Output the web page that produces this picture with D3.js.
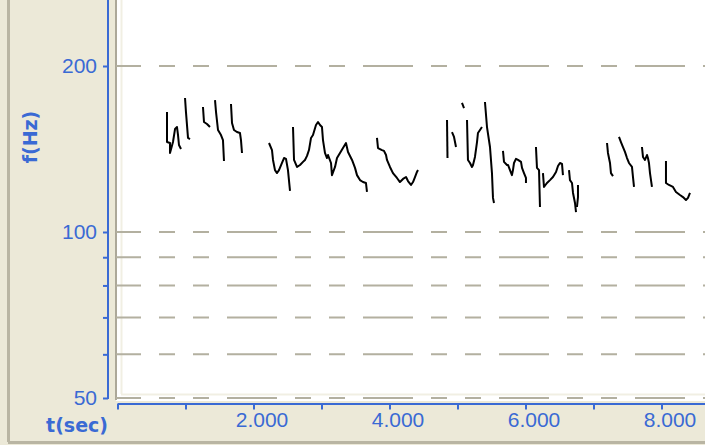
<!DOCTYPE html>
<html>
<head>
<meta charset="utf-8">
<script src="https://cdn.jsdelivr.net/npm/d3@7"></script>
<style>
  body { margin: 0; background: #ECE9D8; }
  svg { display: block; }
</style>
</head>
<body>
<svg id="pitchSVG" width="705" height="445"></svg>
<script>
// grid / tick values
const yGridValues = [200, 100, 90, 80, 70, 60, 50];
const yLabelValues = [200, 100, 50];
const xTickValues = [0, 1, 2, 3, 4, 5, 6, 7, 8];
const xLabelValues = [2, 4, 6, 8];

// pitch contour pieces, [t(sec), f(Hz)]
const pitchSegments = [
  [[0.728,165.0],[0.728,145.6],[0.772,145.0],[0.772,139.1],[0.816,145.6],[0.846,153.7],[0.875,155.0],[0.890,149.9],[0.904,143.8],[0.934,141.4]],
  [[0.993,175.0],[1.007,165.0],[1.037,148.1],[1.066,147.4]],
  [[1.257,168.5],[1.272,158.3],[1.316,157.0],[1.360,155.0]],
  [[1.434,173.5],[1.449,165.0],[1.478,153.1],[1.522,149.9],[1.551,146.8],[1.566,134.5]],
  [[1.669,170.7],[1.684,157.6],[1.713,153.1],[1.757,151.8],[1.801,151.2],[1.816,146.8],[1.831,139.1]],
  [[2.228,145.0],[2.272,140.8],[2.287,135.1],[2.316,129.5],[2.346,127.9],[2.375,129.5],[2.419,133.4],[2.449,136.2],[2.478,135.7],[2.507,129.5],[2.537,118.7]],
  [[2.581,155.0],[2.596,135.1],[2.640,131.2],[2.684,132.3],[2.728,134.0],[2.757,135.1],[2.787,137.4],[2.816,140.8],[2.846,148.1],[2.875,149.9],[2.919,156.3],[2.949,158.3],[2.978,156.3],[3.007,155.0],[3.022,146.8],[3.051,139.1],[3.081,136.2],[3.096,137.9],[3.140,133.4],[3.154,126.8],[3.199,131.2],[3.228,136.2],[3.272,139.1],[3.316,142.0],[3.360,145.0],[3.390,139.7],[3.449,135.1],[3.493,130.7],[3.522,126.8],[3.566,124.2],[3.610,123.2],[3.654,122.7],[3.669,118.2]],
  [[3.816,148.1],[3.831,142.0],[3.890,140.8],[3.919,140.3],[3.949,137.9],[3.963,135.1],[4.007,131.2],[4.051,127.9],[4.110,125.3],[4.154,123.2],[4.199,124.8],[4.243,125.8],[4.272,123.7],[4.316,121.7],[4.346,123.2],[4.375,125.8],[4.404,128.5],[4.419,129.5]],
  [[4.846,159.6],[4.853,136.2]],
  [[4.919,151.8],[4.949,148.7],[4.978,142.6]],
  [[5.066,171.4],[5.096,167.8]],
  [[5.140,159.6],[5.154,135.1],[5.184,133.4],[5.213,131.2],[5.228,132.3],[5.257,136.8],[5.287,145.6],[5.301,151.2],[5.331,153.1],[5.360,155.0]],
  [[5.404,172.1],[5.434,155.0],[5.478,142.6],[5.507,127.9],[5.522,115.3],[5.537,112.9]],
  [[5.669,140.3],[5.684,134.0],[5.728,132.3],[5.743,132.3],[5.772,129.5],[5.801,126.8],[5.816,129.5],[5.831,133.4],[5.860,135.7],[5.890,135.1],[5.934,134.0],[5.949,130.7],[5.978,127.9],[6.007,125.3],[6.007,122.7]],
  [[6.154,142.6],[6.169,130.7],[6.199,129.5],[6.213,111.0]],
  [[6.257,127.9],[6.272,120.7],[6.316,122.7],[6.360,124.2],[6.404,125.8],[6.449,128.5],[6.478,131.7],[6.507,133.4],[6.537,132.9],[6.551,126.8]],
  [[6.640,129.5],[6.654,124.2],[6.684,122.7],[6.699,117.7],[6.728,112.9],[6.743,108.7]],
  [[6.772,121.7],[6.772,115.7],[6.757,111.0]],
  [[7.199,145.0],[7.213,139.1],[7.243,133.4],[7.257,127.9],[7.287,126.3]],
  [[7.375,148.7],[7.404,145.6],[7.434,142.6],[7.463,139.7],[7.493,136.2],[7.522,133.4],[7.566,131.2],[7.581,125.8],[7.596,120.7]],
  [[7.713,142.6],[7.728,136.8],[7.757,135.1],[7.787,137.9],[7.801,136.2],[7.816,133.4],[7.831,127.9],[7.860,120.7]],
  [[8.066,134.5],[8.066,122.7],[8.110,121.7],[8.169,120.7],[8.213,118.2],[8.272,116.7],[8.316,115.7],[8.360,114.3],[8.390,115.3],[8.419,117.7]]
];

const blue = "#3A6AD4";
const gridColor = "#B3B0A0";

const svg = d3.select("#pitchSVG");
const W = 705, H = 445;

const xScale = d3.scaleLinear().domain([0, 8.64]).range([117.5, W]);
const yScale = d3.scaleLog().domain([50, 200]).range([398, 66]);

// outer frame lines
svg.append("line").attr("x1", 8.5).attr("x2", 8.5).attr("y1", 0).attr("y2", 442)
   .attr("stroke", "#B9B5A3").attr("stroke-width", 3);
svg.append("line").attr("x1", 8).attr("x2", W).attr("y1", 442.5).attr("y2", 442.5)
   .attr("stroke", "#B9B5A3").attr("stroke-width", 3);

// plot area
svg.append("rect").attr("x", 116).attr("y", 0).attr("width", W - 116).attr("height", 401)
   .attr("fill", "#FFFFFF");
svg.append("line").attr("x1", 116).attr("x2", 116).attr("y1", 0).attr("y2", 400)
   .attr("stroke", "#ACA899").attr("stroke-width", 2);
svg.append("line").attr("x1", 121.5).attr("x2", 121.5).attr("y1", 0).attr("y2", 394)
   .attr("stroke", "#F1EFE3").attr("stroke-width", 2);
svg.append("line").attr("x1", 121).attr("x2", W).attr("y1", 394.5).attr("y2", 394.5)
   .attr("stroke", "#F1EFE3").attr("stroke-width", 2);

// dashed grid
svg.append("g").selectAll("line")
   .data(yGridValues)
   .join("line")
   .attr("x1", 116).attr("x2", W)
   .attr("y1", d => yScale(d)).attr("y2", d => yScale(d))
   .attr("stroke", gridColor)
   .attr("stroke-width", 2)
   .attr("stroke-dasharray", "50,18,16,18,16,18")
   .attr("stroke-dashoffset", 25);

// pitch contours
const line = d3.line().x(d => xScale(d[0])).y(d => yScale(d[1]));
svg.append("g").selectAll("path")
   .data(pitchSegments)
   .join("path")
   .attr("d", line)
   .attr("fill", "none")
   .attr("stroke", "#000")
   .attr("stroke-width", 2)
   .attr("stroke-linejoin", "round");

// y axis
const yAxis = svg.append("g").attr("transform", "translate(108,0)")
   .call(d3.axisLeft(yScale)
      .tickValues(yGridValues)
      .tickSize(5)
      .tickPadding(6)
      .tickFormat(d => yLabelValues.includes(d) ? d : ""));
yAxis.select(".domain").remove();
yAxis.selectAll(".tick line").attr("stroke", blue).attr("stroke-width", 2);
yAxis.selectAll(".tick text")
   .attr("fill", blue).attr("font-family", "Liberation Sans, Arial, sans-serif").attr("font-size", 21);
svg.append("line").attr("x1", 108).attr("x2", 108).attr("y1", 0).attr("y2", yScale(50) + 1)
   .attr("stroke", blue).attr("stroke-width", 2);

// x axis
const fmt = d3.format(".3f");
const xAxis = svg.append("g").attr("transform", "translate(0,403.5)")
   .call(d3.axisBottom(xScale)
      .tickValues(xTickValues)
      .tickSize(6)
      .tickSizeOuter(0)
      .tickPadding(3)
      .tickFormat(d => xLabelValues.includes(d) ? fmt(d) : ""));
xAxis.select(".domain").attr("stroke", blue).attr("stroke-width", 2);
xAxis.selectAll(".tick line").attr("stroke", blue).attr("stroke-width", 2);
xAxis.selectAll(".tick text")
   .attr("fill", blue).attr("font-family", "Liberation Sans, Arial, sans-serif").attr("font-size", 21)
   .attr("dx", 8);

// axis titles
svg.append("text")
   .attr("transform", "translate(37,137) rotate(-90)")
   .attr("text-anchor", "middle")
   .attr("font-family", "DejaVu Sans, sans-serif")
   .attr("font-weight", "bold")
   .attr("font-size", 19)
   .attr("fill", blue)
   .text("f(Hz)");
svg.append("text")
   .attr("x", 108).attr("y", 432)
   .attr("text-anchor", "end")
   .attr("font-family", "DejaVu Sans, sans-serif")
   .attr("font-weight", "bold")
   .attr("font-size", 19)
   .attr("fill", blue)
   .text("t(sec)");
</script>
</body>
</html>
